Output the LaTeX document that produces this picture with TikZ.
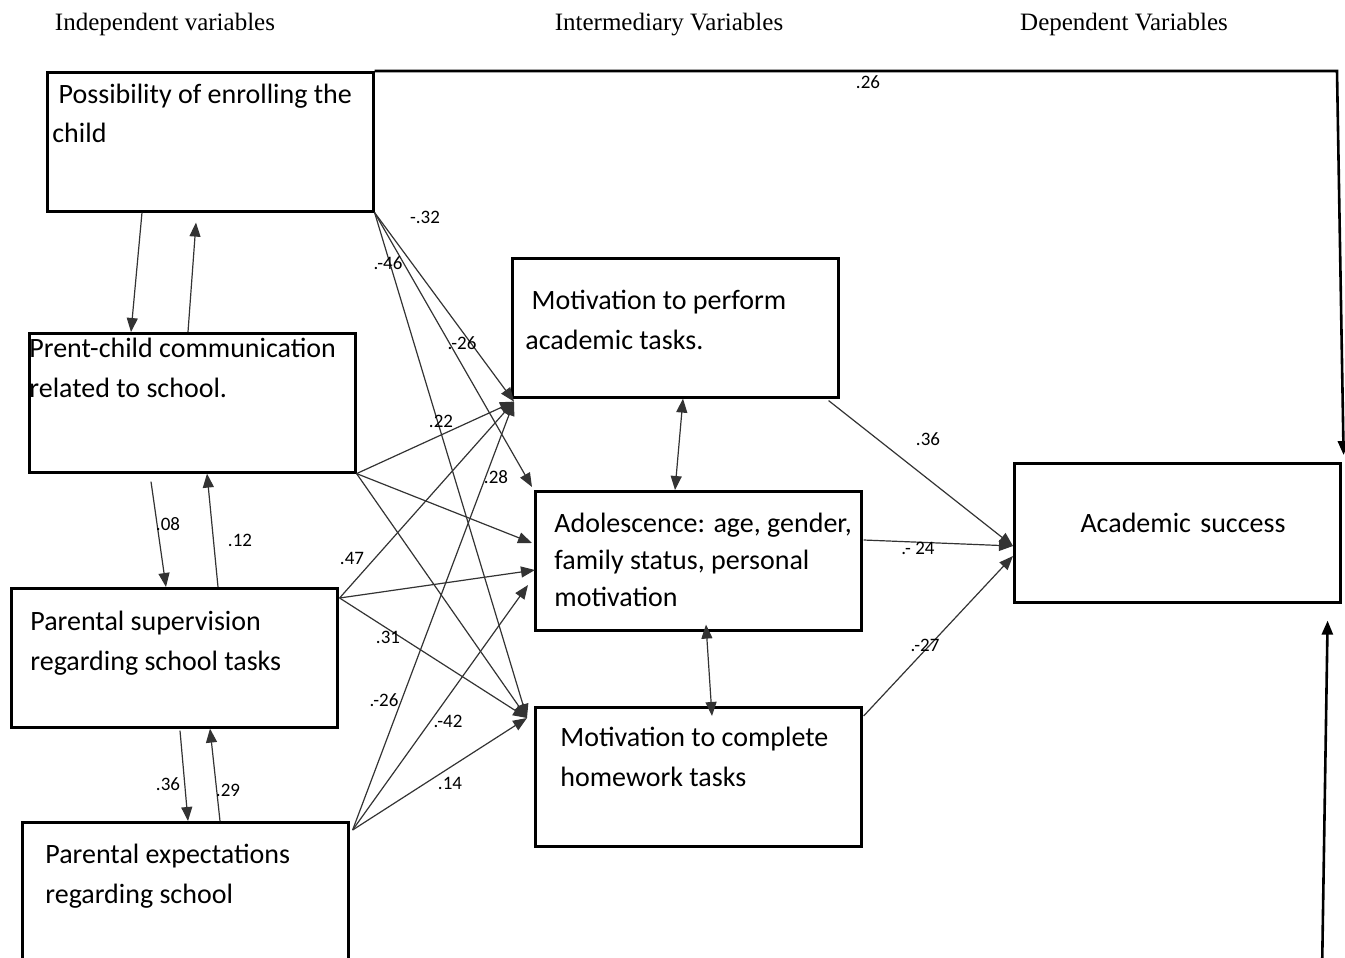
\documentclass[tikz,border=0pt]{standalone}
\usepackage{fontspec}
\setmainfont{Carlito}
\newfontfamily\headfont{Liberation Serif}
\usetikzlibrary{arrows.meta,calc}

\tikzset{
  varbox/.style={draw, line width=1.3pt, anchor=north west, minimum width=163pt, minimum height=69.5pt, inner sep=0pt},
  boxtxt/.style={anchor=base west, align=flush left, text width=180pt, inner sep=0pt, font=\fontsize{14}{20}\selectfont},
  head/.style={anchor=base, inner sep=0pt, font=\headfont\fontsize{12.5}{14}\selectfont},
  coef/.style={inner sep=0pt, font=\fontsize{9.5}{11}\selectfont},
  link/.style={-{Triangle[length=7pt,width=5.5pt]}, line width=0.6pt, black!80},
  twoway/.style={{Triangle[length=7pt,width=5.5pt]}-{Triangle[length=7pt,width=5.5pt]}, line width=0.6pt, black!80},
}

\begin{document}
\begin{tikzpicture}[x=0.5pt, y=-0.5pt]
  \useasboundingbox (0,0) rectangle (1345,958);
  \clip (0,0) rectangle (1345,958);

  % column headings
  \node[head] (hind) at (165,31) {Independent variables};
  \node[head] (hmid) at (669,31) {Intermediary Variables};
  \node[head] (hdep) at (1124,31) {Dependent Variables};

  % boxes
  \node[varbox] (enrol) at (46,71) {};
  \node[varbox] (comm) at (28,332) {};
  \node[varbox] (super) at (10,587) {};
  \node[varbox] (expect) at (21,821) {};
  \node[varbox] (perform) at (511,257) {};
  \node[varbox] (adol) at (534,490) {};
  \node[varbox] (homework) at (534,706) {};
  \node[varbox] (success) at (1013,462) {};

  % box texts
  \node[boxtxt] (enrol-t) at ($(enrol.north west)+(6,32)$) {\ Possibility of enrolling the\\child};
  \node[boxtxt] (comm-t) at ($(comm.north west)+(1,25)$) {Prent-child communication\\related to school.};
  \node[boxtxt] (super-t) at ($(super.north west)+(20,43)$) {Parental supervision\\regarding school tasks};
  \node[boxtxt] (expect-t) at ($(expect.north west)+(24,42)$) {Parental expectations\\regarding school};
  \node[boxtxt] (perform-t) at ($(perform.north west)+(14,52)$) {\ Motivation to perform\\academic tasks.};
  \node[boxtxt, font=\fontsize{14}{18.5}\selectfont] (adol-t) at ($(adol.north west)+(20,42)$) {Adolescence: age, gender,\\family status, personal\\motivation};
  \node[boxtxt] (homework-t) at ($(homework.north west)+(26,40)$) {Motivation to complete\\homework tasks};
  \node[boxtxt, anchor=base, align=center] (success-t) at ($(success.north west)+(170,70)$) {Academic success};

  % arrow ends
  \coordinate (pin) at ($(perform.south west)+(3,3)$);
  \coordinate (ain1) at ($(adol.north west)+(-2,-3)$);
  \coordinate (ain2) at ($(adol.north west)+(-2,53)$);
  \coordinate (ain3) at ($(adol.north west)+(1,80)$);
  \coordinate (ain4) at ($(adol.north west)+(-6,95)$);
  \coordinate (hin) at ($(homework.north west)+(-7,12)$);
  \coordinate (sin1) at ($(success.north west)+(0,84)$);
  \coordinate (sin2) at ($(success.north west)+(0,94)$);
  \coordinate (corner) at (1337,71);
  \coordinate (bottom) at (1322,975);

  % left column, both ways
  \draw[link] ([xshift=48pt]enrol.south west) -- ([xshift=51.5pt]comm.north west);
  \draw[link] ([xshift=80pt]comm.north west) -- ([xshift=75pt, yshift=-5pt]enrol.south west);
  \draw[link] ([xshift=61.5pt, yshift=-4pt]comm.south west) -- ([xshift=78pt]super.north west);
  \draw[link] ([xshift=104pt]super.north west) -- ([xshift=89.5pt]comm.south west);
  \draw[link] ([xshift=85pt, yshift=-1pt]super.south west) -- ([xshift=83.5pt]expect.north west);
  \draw[link] ([xshift=99.5pt]expect.north west) -- ([xshift=100pt]super.south west);

  % to the intermediary variables
  \foreach \dest in {pin, ain1, hin}
    \draw[link] (enrol.south east) -- (\dest);
  \foreach \dest in {pin, ain2, hin}
    \draw[link] (comm.south east) -- (\dest);
  \foreach \dest in {pin, ain3, hin}
    \draw[link] ($(super.north east)+(1,11)$) -- (\dest);
  \foreach \dest in {pin, ain4, hin}
    \draw[link] ($(expect.north east)+(3,9)$) -- (\dest);

  % between the intermediary variables
  \draw[twoway] ([xshift=86pt]perform.south west) -- ([xshift=70.5pt]adol.north west);
  \draw[twoway] ($(adol.south west)+(172,-7)$) -- ($(homework.north west)+(178,10)$);

  % to academic success
  \draw[link] ($(perform.south east)+(-11,2)$) -- (sin1);
  \draw[link] ($(adol.north east)+(1,50)$) -- (sin1);
  \draw[link] ($(homework.north east)+(1,10)$) -- (sin2);
  \draw[link, line width=1.3pt, black] (enrol.north east) -- (corner) -- ($(success.north east)+(2,-7)$);
  \draw[link, line width=1.3pt, black] (bottom) -- ($(success.south east)+(-14,17)$);

  % path coefficients
  \foreach \x/\y/\t [count=\i] in {868/82/.26, 425/217/-.32, 388/263/.-46, 462/343/.-26,
      441/421/.22, 496/477/.28, 352/558/.47, 388/637/.31, 384/700/.-26, 448/721/.-42,
      450/783/.14, 168/524/.08, 240/540/.12, 168/784/.36, 228/790/.29, 928/439/.36,
      918/548/.- 24, 925/645/.-27}
    \node[coef] (w\i) at (\x,\y) {\t};
\end{tikzpicture}
\end{document}
